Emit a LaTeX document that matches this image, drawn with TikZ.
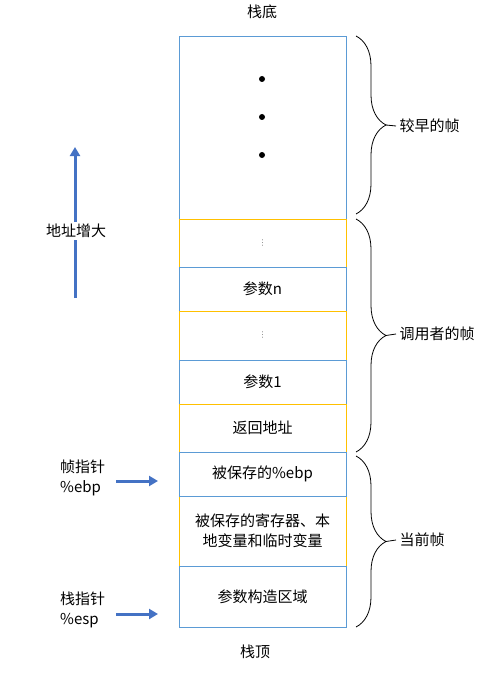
\documentclass[tikz,border=0pt]{standalone}
\usepackage{fontspec}
\setmainfont{Noto Sans CJK SC}
\newfontfamily\symfont{DejaVu Sans}
\usetikzlibrary{positioning}
\usetikzlibrary{arrows.meta}
\usetikzlibrary{decorations.pathreplacing}
\definecolor{cellblue}{HTML}{5B9BD5}
\definecolor{cellyellow}{HTML}{FFC000}
\definecolor{ptrblue}{HTML}{4472C4}

\begin{document}
\begin{tikzpicture}[x=1pt,y=-1pt,
  font=\fontsize{15}{20}\selectfont,
  cell/.style={draw=#1, fill=white, line width=0.8pt, minimum width=167pt,
    inner sep=0pt, outer sep=0pt, align=center},
  framebrace/.style={decorate, decoration={brace, amplitude=30pt}, line width=0.8pt},
  ptr/.style={draw=ptrblue, line width=3pt, -{Triangle[width=10pt,length=9pt]}},
  gapdots/.style={text=gray, font=\symfont\fontsize{8}{8}\selectfont}]

\useasboundingbox (0,0) rectangle (503,674);

% the stack, from bottom (high addresses) to top
\node[cell=cellblue, minimum height=183pt] (early) at (262.5,127.5) {};
\node[cell=cellyellow, minimum height=48pt, below=0pt of early] (gapn) {};
\node[cell=cellblue, minimum height=44pt, below=0pt of gapn] (argn) {参数n};
\node[cell=cellyellow, minimum height=49pt, below=0pt of argn] (gapone) {};
\node[cell=cellblue, minimum height=44pt, below=0pt of gapone] (argone) {参数1};
\node[cell=cellyellow, minimum height=48pt, below=0pt of argone] (retaddr) {返回地址};
\node[cell=cellyellow, minimum height=70pt, below=44pt of retaddr] (locals)
  {被保存的寄存器、本\\地变量和临时变量};
\node[cell=cellblue, minimum height=44pt, below=0pt of retaddr] (savedebp) {被保存的\%ebp};
\node[cell=cellblue, minimum height=61pt, below=0pt of locals] (argbuild) {参数构造区域};

\fill (262,79) circle (3);
\fill (262,117) circle (3);
\fill (262,155) circle (3);
\node[gapdots] (dotsn) at (gapn) {⋮};
\node[gapdots] (dotsone) at (gapone) {⋮};

\node (bottom) at (262,12) {栈底};
\node (top) at (255,652) {栈顶};

% braces on the right
\draw[framebrace] (356,36) -- (356,214);
\draw[framebrace] (356,219) -- (356,452);
\draw[framebrace] (356,456) -- (356,627);
\coordinate (tipearly) at (386,125);
\coordinate (tipcaller) at (386,335.5);
\coordinate (tipcurrent) at (386,541.5);
\node[anchor=west] (earlylbl) at (396,126) {较早的帧};
\node[anchor=west] (callerlbl) at (396,334) {调用者的帧};
\node[anchor=west] (currentlbl) at (396,540) {当前帧};
\draw[line width=0.8pt] (tipearly) -- (earlylbl.west);
\draw[line width=0.8pt] (tipcaller) -- (callerlbl.west);
\draw[line width=0.8pt] (tipcurrent) -- (currentlbl.west);

% addresses grow upwards
\coordinate (growlow) at (75,298);
\coordinate (growhigh) at (75,147);
\draw[ptr] (growlow) -- (growhigh);
\node[fill=white, inner sep=2pt] (growlbl) at (76,231) {地址增大};

% pointers
\node[anchor=west, align=left, inner sep=0pt] (fp) at (60,478) {帧指针\\\%ebp};
\node[anchor=west, align=left, inner sep=0pt] (sp) at (60,610) {栈指针\\\%esp};
\draw[ptr, shorten <=11pt, shorten >=21pt] ([yshift=-3pt]fp.east) -- ([yshift=-3pt]fp.east -| savedebp.west);
\draw[ptr, shorten <=11pt, shorten >=21pt] ([yshift=-4pt]sp.east) -- ([yshift=-4pt]sp.east -| argbuild.west);
\end{tikzpicture}
\end{document}
